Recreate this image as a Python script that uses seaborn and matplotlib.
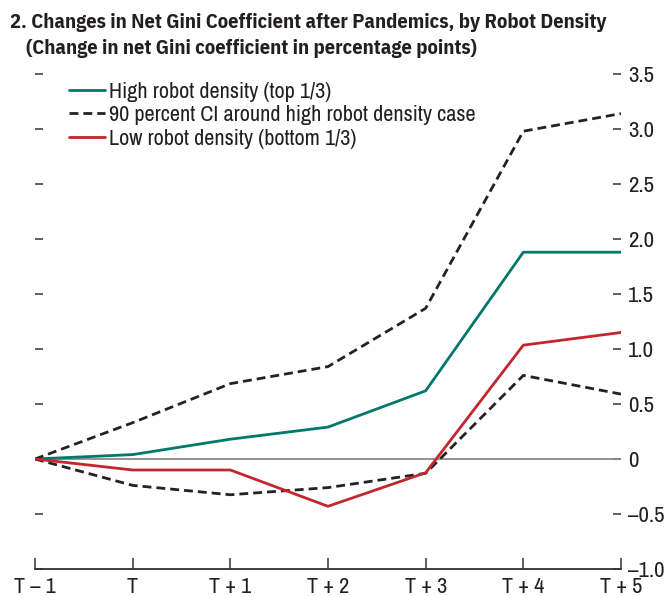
import matplotlib
matplotlib.use("Agg")
import matplotlib.pyplot as plt
import seaborn as sns
import pandas as pd
import numpy as np
from matplotlib.ticker import FixedLocator, FuncFormatter

periods = ["T \u2013 1", "T", "T + 1", "T + 2", "T + 3", "T + 4", "T + 5"]
high_density = [0.0, 0.04, 0.18, 0.29, 0.62, 1.88, 1.88]
ci_upper = [0.0, 0.33, 0.685, 0.84, 1.37, 2.98, 3.14]
ci_lower = [0.0, -0.24, -0.325, -0.26, -0.13, 0.76, 0.59]
low_density = [0.0, -0.10, -0.10, -0.43, -0.125, 1.035, 1.15]
y_ticks = [-1.0, -0.5, 0.0, 0.5, 1.0, 1.5, 2.0, 2.5, 3.0, 3.5]

sns.set_theme(style="white")
plt.rcParams["font.family"] = ["Archivo Narrow", "DejaVu Sans"]

GREEN = "#00786b"
RED = "#c1272d"
BLACK = "#222222"
TXT = "#231f20"
DASH = (0, (3.2, 1.8))

fig = plt.figure(figsize=(6.68, 5.96), dpi=100)
ax = fig.add_axes([35/668, (596-569)/596, (621-35)/668, (569-74)/596])

x = np.arange(len(periods))
df = pd.DataFrame({"x": x, "high": high_density, "up": ci_upper,
                   "lo": ci_lower, "low": low_density})

ax.axhline(0, color="#8a8a8a", lw=1.3, zorder=1)

sns.lineplot(data=df, x="x", y="high", ax=ax, color=GREEN, lw=2.0,
             label="High robot density (top 1/3)", zorder=3)
sns.lineplot(data=df, x="x", y="up", ax=ax, color=BLACK, lw=2.0,
             label="90 percent CI around high robot density case", zorder=3)
sns.lineplot(data=df, x="x", y="lo", ax=ax, color=BLACK, lw=2.0, zorder=3)
sns.lineplot(data=df, x="x", y="low", ax=ax, color=RED, lw=2.0,
             label="Low robot density (bottom 1/3)", zorder=3)

lines = ax.get_lines()
for ln in lines[2:4]:
    ln.set_linestyle(DASH)

ax.set_xlim(0, 6)
ax.set_ylim(-1.0, 3.5)
ax.set_xticks(x)
ax.set_xticklabels(periods)
ax.yaxis.set_major_locator(FixedLocator(y_ticks))

def fmt(v, pos):
    if abs(v) < 1e-9:
        return "0"
    s = f"{v:.1f}"
    return s.replace("-", "\u2013")

ax.yaxis.set_major_formatter(FuncFormatter(fmt))
ax.set_xlabel("")
ax.set_ylabel("")

for side in ["top", "right", "left"]:
    ax.spines[side].set_visible(False)
ax.spines["bottom"].set_color("#333333")
ax.spines["bottom"].set_linewidth(1.3)

ax.tick_params(axis="y", left=True, right=True, labelleft=False, labelright=True,
               direction="in", length=6, width=1.1, color="#333333",
               labelsize=16.5, pad=5, labelcolor=TXT)
ax.tick_params(axis="x", bottom=True, direction="in", length=8, width=1.1,
               color="#333333", labelsize=16, pad=6, labelcolor=TXT)

leg = ax.legend(loc="upper left", bbox_to_anchor=(0.043, 1.002), frameon=False,
                fontsize=16, handlelength=1.6, handletextpad=0.2,
                labelspacing=0.15, borderaxespad=0)
for h in leg.get_lines():
    h.set_linewidth(2.0)
leg.get_lines()[1].set_linestyle(DASH)
for t in leg.get_texts():
    t.set_color(TXT)

title_font = ["IBM Plex Sans Condensed", "DejaVu Sans"]
fig.text(10/668, 1 - 22/596, "2. Changes in Net Gini Coefficient after Pandemics, by Robot Density",
         fontsize=14.8, fontweight="bold", va="center", ha="left", color=TXT, family=title_font)
fig.text(26/668, 1 - 48/596, "(Change in net Gini coefficient in percentage points)",
         fontsize=14.8, fontweight="bold", va="center", ha="left", color=TXT, family=title_font)

fig.savefig("out.png", dpi=100)
